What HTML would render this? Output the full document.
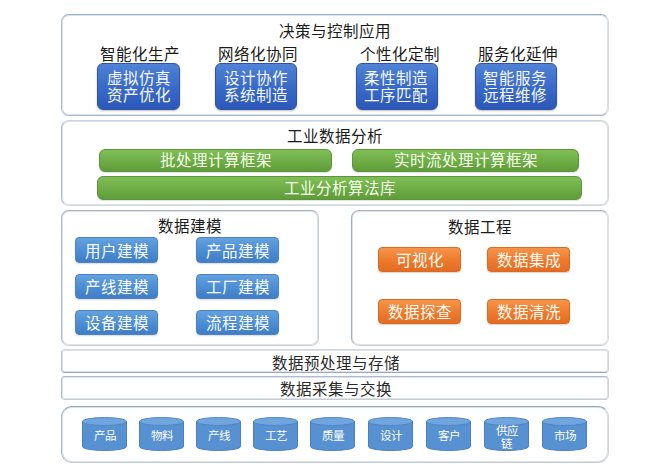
<!DOCTYPE html>
<html lang="zh-CN"><head><meta charset="utf-8"><style>
html,body{margin:0;padding:0;background:#fff;width:653px;height:474px;overflow:hidden;position:relative}
body{font-family:"Liberation Sans",sans-serif}
.box{position:absolute;box-sizing:border-box;border:1px solid #b4c2d8;background:#fff;box-shadow:inset 0 0 0 1px rgba(175,190,205,.45)}
.t,.ts{position:absolute;text-align:center;line-height:18px;white-space:nowrap}
.ts{font-family:"Liberation Serif",serif}
.bb,.gb,.lb,.ob{position:absolute;box-sizing:border-box;display:flex;align-items:center;justify-content:center;text-align:center;color:#fff;font-size:15.5px;line-height:17px;white-space:nowrap}
.bb{background:linear-gradient(#5082d6,#3868c8 55%,#2c58b8);border:1px solid #2d55a8;box-shadow:0 1px 2px rgba(0,0,0,.25);color:#f4f8ff}
.gb{background:linear-gradient(#80be56,#6eac46 55%,#5f9c3a);border:1px solid #5c9638;color:#f4ffe8;box-shadow:0 1px 1px rgba(0,0,0,.12)}
.lb{background:linear-gradient(#64a2de,#4e8ed4 50%,#3f7ec6);border:1px solid #4a84c4;color:#f8fcff;box-shadow:0 1px 1.5px rgba(0,0,0,.15)}
.ob{background:linear-gradient(#f5944a,#ee7c30 50%,#e26c22);border:1px solid #dc6a22;color:#fffaf0;box-shadow:0 1px 1.5px rgba(0,0,0,.18)}
.cyl{position:absolute;width:45px;height:34px}
.cyl svg{position:absolute;left:0;top:0}
.cl{position:absolute;left:0;top:6px;width:45px;height:26px;display:flex;align-items:center;justify-content:center;text-align:center;color:#fff;font-size:11.5px;line-height:12px;font-family:"Liberation Serif",serif}
</style></head><body>
<div class="box" style="left:61px;top:14px;width:548px;height:102px;border-radius:8px;border-color:#98acd0 #d8dce2 #a4b8d4 #a8bcd8"></div>
<div class="t" style="left:185px;top:22.5px;width:300px;font-size:15.5px;color:#1a1a1a">决策与控制应用</div>
<div class="t" style="left:-10.5px;top:45.5px;width:300px;font-size:15.5px;color:#1a1a1a">智能化生产</div>
<div class="t" style="left:107.5px;top:45.5px;width:300px;font-size:15.5px;color:#1a1a1a">网络化协同</div>
<div class="t" style="left:250px;top:45.5px;width:300px;font-size:15.5px;color:#1a1a1a">个性化定制</div>
<div class="t" style="left:367.5px;top:45.5px;width:300px;font-size:15.5px;color:#1a1a1a">服务化延伸</div>
<div class="bb" style="left:97px;top:62.5px;width:83px;height:47.0px;border-radius:6px"><span style="position:relative;left:0px;top:0.5px">虚拟仿真<br>资产优化</span></div>
<div class="bb" style="left:215px;top:62.5px;width:82px;height:47.0px;border-radius:6px"><span style="position:relative;left:0px;top:0.5px">设计协作<br>系统制造</span></div>
<div class="bb" style="left:356px;top:62.5px;width:82px;height:47.0px;border-radius:6px"><span style="position:relative;left:-1px;top:0.5px">柔性制造<br>工序匹配</span></div>
<div class="bb" style="left:475px;top:62.5px;width:82px;height:47.0px;border-radius:6px"><span style="position:relative;left:-1.5px;top:0.5px">智能服务<br>远程维修</span></div>
<div class="box" style="left:61px;top:120px;width:548px;height:86px;border-radius:8px;border-color:#ccd6d8 #d4d8dc #d4d8dc #a8bcc8"></div>
<div class="t" style="left:185px;top:127.5px;width:300px;font-size:15.5px;color:#1a1a1a">工业数据分析</div>
<div class="gb" style="left:99px;top:149px;width:233px;height:23px;border-radius:6px"><span style="position:relative;left:0px;top:0px">批处理计算框架</span></div>
<div class="gb" style="left:352px;top:149px;width:227px;height:23px;border-radius:6px"><span style="position:relative;left:0px;top:0px">实时流处理计算框架</span></div>
<div class="gb" style="left:97px;top:176px;width:485px;height:24px;border-radius:6px"><span style="position:relative;left:0px;top:0px">工业分析算法库</span></div>
<div class="box" style="left:61px;top:210px;width:258px;height:136px;border-radius:8px;border-color:#a4b4c4 #c8ccd0 #cfd2d8 #a8bccc"></div>
<div class="t" style="left:40px;top:218px;width:300px;font-size:15.5px;color:#1a1a1a">数据建模</div>
<div class="lb" style="left:75px;top:237px;width:83px;height:26px;border-radius:4px"><span style="position:relative;left:0px;top:1px">用户建模</span></div>
<div class="lb" style="left:196px;top:237px;width:83px;height:26px;border-radius:4px"><span style="position:relative;left:0px;top:1px">产品建模</span></div>
<div class="lb" style="left:75px;top:274px;width:83px;height:25px;border-radius:4px"><span style="position:relative;left:0px;top:1px">产线建模</span></div>
<div class="lb" style="left:196px;top:274px;width:83px;height:25px;border-radius:4px"><span style="position:relative;left:0px;top:1px">工厂建模</span></div>
<div class="lb" style="left:75px;top:310px;width:83px;height:25px;border-radius:4px"><span style="position:relative;left:0px;top:1px">设备建模</span></div>
<div class="lb" style="left:196px;top:310px;width:83px;height:25px;border-radius:4px"><span style="position:relative;left:0px;top:1px">流程建模</span></div>
<div class="box" style="left:351px;top:210px;width:258px;height:136px;border-radius:8px;border-color:#a4b4c4 #dcdee2 #cfd2d8 #a0b0c4"></div>
<div class="t" style="left:330px;top:219px;width:300px;font-size:15.5px;color:#1a1a1a">数据工程</div>
<div class="ob" style="left:378px;top:247px;width:83px;height:25px;border-radius:4px"><span style="position:relative;left:0px;top:0.5px">可视化</span></div>
<div class="ob" style="left:487px;top:247px;width:83px;height:25px;border-radius:4px"><span style="position:relative;left:0px;top:0.5px">数据集成</span></div>
<div class="ob" style="left:378px;top:299px;width:83px;height:25px;border-radius:4px"><span style="position:relative;left:0px;top:0.5px">数据探查</span></div>
<div class="ob" style="left:487px;top:299px;width:83px;height:25px;border-radius:4px"><span style="position:relative;left:0px;top:0.5px">数据清洗</span></div>
<div class="box" style="left:61px;top:349px;width:548px;height:24px;border-radius:4px;border-color:#d4d8dc #d0d4da #9aa8b8 #b8c4d0"></div>
<div class="ts" style="left:186px;top:354.5px;width:300px;font-size:15.5px;color:#2a2a2a">数据预处理与存储</div>
<div class="box" style="left:61px;top:376px;width:548px;height:24px;border-radius:4px;border-color:#a8bcd8 #d0d4da #c8ccd4 #b0c0d4"></div>
<div class="ts" style="left:186px;top:380.7px;width:300px;font-size:15.5px;color:#2a2a2a">数据采集与交换</div>
<div class="box" style="left:61px;top:406px;width:548px;height:57px;border-radius:11px;border-color:#94a8b8 #d0d4da #c8ccd4 #a8bccc"></div>
<div class="cyl" style="left:82px;top:417px"><svg width="45" height="34" viewBox="0 0 45 34"><path d="M0.5 4.5 L0.5 29.5 A22 4 0 0 0 44.5 29.5 L44.5 4.5 Z" fill="#5891d2" stroke="#4a80c0" stroke-width="1"/><ellipse cx="22.5" cy="4.5" rx="22" ry="4" fill="#70a5de" stroke="#5088c8" stroke-width="1"/></svg><div class="cl" style="">产品</div></div>
<div class="cyl" style="left:139px;top:417px"><svg width="45" height="34" viewBox="0 0 45 34"><path d="M0.5 4.5 L0.5 29.5 A22 4 0 0 0 44.5 29.5 L44.5 4.5 Z" fill="#5891d2" stroke="#4a80c0" stroke-width="1"/><ellipse cx="22.5" cy="4.5" rx="22" ry="4" fill="#70a5de" stroke="#5088c8" stroke-width="1"/></svg><div class="cl" style="">物料</div></div>
<div class="cyl" style="left:196px;top:417px"><svg width="45" height="34" viewBox="0 0 45 34"><path d="M0.5 4.5 L0.5 29.5 A22 4 0 0 0 44.5 29.5 L44.5 4.5 Z" fill="#5891d2" stroke="#4a80c0" stroke-width="1"/><ellipse cx="22.5" cy="4.5" rx="22" ry="4" fill="#70a5de" stroke="#5088c8" stroke-width="1"/></svg><div class="cl" style="">产线</div></div>
<div class="cyl" style="left:253px;top:417px"><svg width="45" height="34" viewBox="0 0 45 34"><path d="M0.5 4.5 L0.5 29.5 A22 4 0 0 0 44.5 29.5 L44.5 4.5 Z" fill="#5891d2" stroke="#4a80c0" stroke-width="1"/><ellipse cx="22.5" cy="4.5" rx="22" ry="4" fill="#70a5de" stroke="#5088c8" stroke-width="1"/></svg><div class="cl" style="">工艺</div></div>
<div class="cyl" style="left:310px;top:417px"><svg width="45" height="34" viewBox="0 0 45 34"><path d="M0.5 4.5 L0.5 29.5 A22 4 0 0 0 44.5 29.5 L44.5 4.5 Z" fill="#5891d2" stroke="#4a80c0" stroke-width="1"/><ellipse cx="22.5" cy="4.5" rx="22" ry="4" fill="#70a5de" stroke="#5088c8" stroke-width="1"/></svg><div class="cl" style="">质量</div></div>
<div class="cyl" style="left:368px;top:417px"><svg width="45" height="34" viewBox="0 0 45 34"><path d="M0.5 4.5 L0.5 29.5 A22 4 0 0 0 44.5 29.5 L44.5 4.5 Z" fill="#5891d2" stroke="#4a80c0" stroke-width="1"/><ellipse cx="22.5" cy="4.5" rx="22" ry="4" fill="#70a5de" stroke="#5088c8" stroke-width="1"/></svg><div class="cl" style="">设计</div></div>
<div class="cyl" style="left:426px;top:417px"><svg width="45" height="34" viewBox="0 0 45 34"><path d="M0.5 4.5 L0.5 29.5 A22 4 0 0 0 44.5 29.5 L44.5 4.5 Z" fill="#5891d2" stroke="#4a80c0" stroke-width="1"/><ellipse cx="22.5" cy="4.5" rx="22" ry="4" fill="#70a5de" stroke="#5088c8" stroke-width="1"/></svg><div class="cl" style="">客户</div></div>
<div class="cyl" style="left:484px;top:417px"><svg width="45" height="34" viewBox="0 0 45 34"><path d="M0.5 4.5 L0.5 29.5 A22 4 0 0 0 44.5 29.5 L44.5 4.5 Z" fill="#5891d2" stroke="#4a80c0" stroke-width="1"/><ellipse cx="22.5" cy="4.5" rx="22" ry="4" fill="#70a5de" stroke="#5088c8" stroke-width="1"/></svg><div class="cl" style="top:7.5px;line-height:12.5px">供应<br>链</div></div>
<div class="cyl" style="left:542px;top:417px"><svg width="45" height="34" viewBox="0 0 45 34"><path d="M0.5 4.5 L0.5 29.5 A22 4 0 0 0 44.5 29.5 L44.5 4.5 Z" fill="#5891d2" stroke="#4a80c0" stroke-width="1"/><ellipse cx="22.5" cy="4.5" rx="22" ry="4" fill="#70a5de" stroke="#5088c8" stroke-width="1"/></svg><div class="cl" style="">市场</div></div>
</body></html>
